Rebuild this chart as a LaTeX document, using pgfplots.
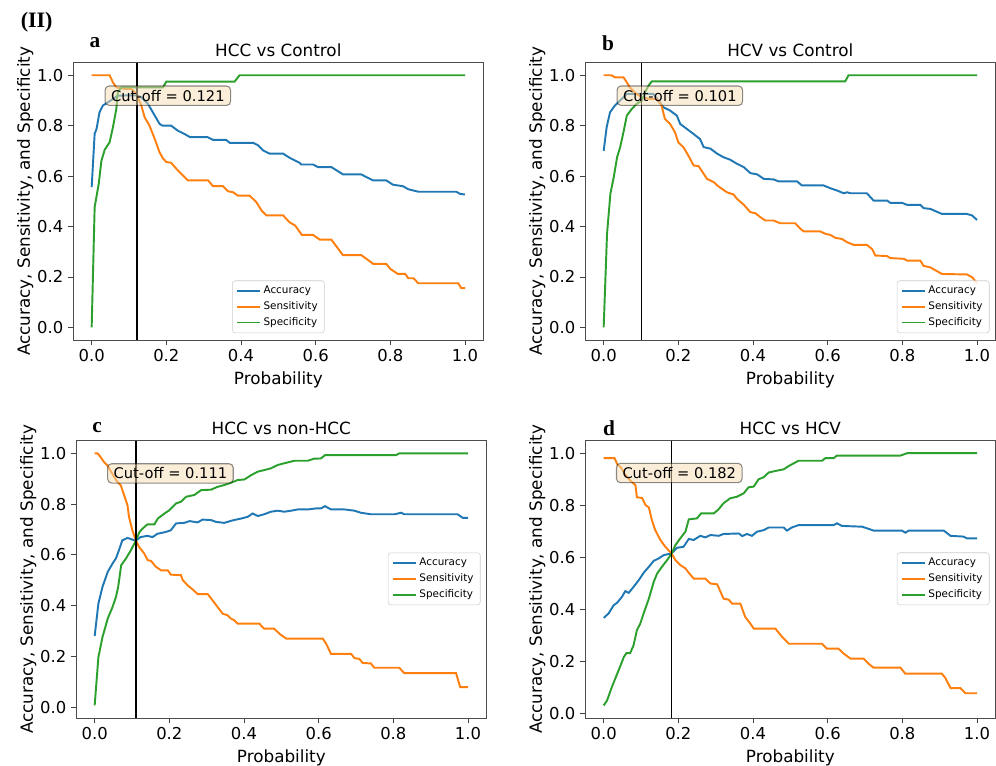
\documentclass[border=0pt]{standalone}
\usepackage{fontspec}
\setmainfont{DejaVu Sans}
\newfontfamily\timesf{Liberation Serif}
\usepackage{pgfplots}
\pgfplotsset{compat=1.18}

\definecolor{cacc}{HTML}{1F77B4}
\definecolor{csen}{HTML}{FF7F0E}
\definecolor{cspe}{HTML}{2CA02C}
\definecolor{wheat}{HTML}{F5DEB3}

\pgfplotsset{
  panel/.style={
    scale only axis, width=308pt, height=208pt, anchor=south west,
    xmin=-0.05, xmax=1.05, ymin=-0.05, ymax=1.05,
    xtick={0,0.2,0.4,0.6,0.8,1}, ytick={0,0.2,0.4,0.6,0.8,1},
    tick align=outside, xtick pos=bottom, ytick pos=left,
    major tick length=3.75pt,
    every tick/.style={black!75, line width=0.6pt},
    axis line style={black!70, line width=0.7pt},
    /pgf/number format/assume math mode=true,
    ticklabel style={font=\fontsize{12.3}{14}\selectfont},
    xticklabel style={/pgf/number format/.cd, fixed, fixed zerofill, precision=1},
    yticklabel style={/pgf/number format/.cd, fixed, fixed zerofill, precision=1},
    xlabel={Probability}, ylabel={Accuracy, Sensitivity, and Specificity},
    ylabel shift=-4pt,
    label style={font=\fontsize{12.6}{15}\selectfont},
    title style={font=\fontsize{12.6}{15}\selectfont, yshift=-5pt},
    legend style={font=\fontsize{7.8}{9}\selectfont, draw=black!20, rounded corners=2pt,
      fill=white, fill opacity=0.8, text opacity=1, draw opacity=1,
      inner xsep=3pt, inner ysep=2pt, row sep=0.5pt},
    legend cell align=left,
    legend image code/.code={\draw[#1] (0pt,0pt) -- (17pt,0pt);},
    every axis plot/.append style={line width=1.45pt, no marks},
    legend entries={Accuracy,Sensitivity,Specificity},
  },
}
\tikzset{
  cutbox/.style={draw=black, draw opacity=0.45, fill=wheat, fill opacity=0.5, text opacity=1,
    line width=0.8pt, rounded corners=3pt, font=\fontsize{11}{13}\selectfont,
    inner xsep=4.5pt, inner ysep=3pt},
}

\begin{document}
\begin{tikzpicture}
\path[use as bounding box] (0pt,0pt) rectangle (747pt,-573.75pt);

\node[font=\timesf\bfseries\fontsize{16.5}{18}\selectfont] at (27.5pt,-16.5pt) {(II)};

% a
\begin{axis}[panel, at={(54.75pt,-255pt)}, title={HCC vs Control},
  legend style={at={(0.5,0.025)}, anchor=south}]
\addplot[cacc] coordinates {
 (0,0.556)(0.008,0.768)(0.013,0.787)(0.021,0.853)(0.03,0.88)(0.044,0.893)(0.057,0.906)
 (0.07,0.919)(0.09,0.92)(0.121,0.92)(0.133,0.913)(0.151,0.886)(0.169,0.84)(0.182,0.807)
 (0.19,0.80)(0.213,0.80)(0.231,0.78)(0.249,0.767)(0.263,0.755)(0.31,0.755)(0.325,0.744)
 (0.36,0.744)(0.37,0.732)(0.433,0.732)(0.446,0.722)(0.459,0.702)(0.477,0.689)(0.513,0.689)
 (0.53,0.673)(0.557,0.653)(0.561,0.646)(0.593,0.646)(0.606,0.636)(0.642,0.636)(0.673,0.607)
 (0.722,0.607)(0.736,0.596)(0.754,0.583)(0.789,0.583)(0.807,0.566)(0.834,0.56)(0.848,0.548)
 (0.875,0.538)(0.977,0.538)(0.986,0.53)(1,0.527)};
\addplot[csen] coordinates {
 (0,1)(0.048,1)(0.057,0.972)(0.066,0.952)(0.088,0.946)(0.106,0.946)(0.12,0.926)(0.133,0.88)
 (0.142,0.833)(0.155,0.80)(0.169,0.747)(0.182,0.694)(0.191,0.67)(0.2,0.656)(0.213,0.653)
 (0.227,0.629)(0.24,0.609)(0.258,0.583)(0.312,0.583)(0.325,0.56)(0.352,0.56)(0.365,0.54)
 (0.379,0.536)(0.391,0.523)(0.423,0.523)(0.441,0.497)(0.455,0.464)(0.468,0.444)(0.513,0.444)
 (0.53,0.417)(0.545,0.404)(0.563,0.367)(0.593,0.367)(0.611,0.348)(0.642,0.348)(0.673,0.287)
 (0.722,0.287)(0.736,0.272)(0.754,0.252)(0.789,0.252)(0.8,0.232)(0.82,0.212)(0.84,0.212)
 (0.848,0.195)(0.862,0.195)(0.875,0.175)(0.982,0.175)(0.99,0.156)(1,0.156)};
\addplot[cspe] coordinates {
 (0,0)(0.008,0.477)(0.019,0.57)(0.026,0.66)(0.035,0.705)(0.048,0.734)(0.057,0.794)
 (0.066,0.866)(0.07,0.933)(0.08,0.952)(0.191,0.952)(0.2,0.975)(0.383,0.975)(0.396,1)(1,1)};
\addplot[black, line width=1.2pt, forget plot] coordinates {(0.121,-0.05)(0.121,1.05)};
\node[cutbox] at (axis cs:0.204,0.919) {Cut-off = 0.121};
\end{axis}
\node[font=\timesf\bfseries\fontsize{16}{18}\selectfont] at (71.25pt,-32.25pt) {a};

% b
\begin{axis}[panel, at={(438.75pt,-255pt)}, title={HCV vs Control},
  legend style={at={(0.985,0.025)}, anchor=south east}]
\addplot[cacc] coordinates {
 (0,0.70)(0.008,0.794)(0.017,0.853)(0.03,0.88)(0.044,0.90)(0.062,0.926)(0.133,0.926)
 (0.147,0.90)(0.16,0.873)(0.178,0.86)(0.196,0.84)(0.205,0.807)(0.223,0.787)(0.241,0.767)
 (0.258,0.747)(0.268,0.715)(0.286,0.709)(0.304,0.689)(0.321,0.675)(0.339,0.665)(0.357,0.649)
 (0.375,0.636)(0.393,0.612)(0.411,0.607)(0.429,0.589)(0.455,0.587)(0.469,0.579)(0.518,0.579)
 (0.531,0.563)(0.589,0.563)(0.607,0.552)(0.625,0.543)(0.643,0.532)(0.652,0.536)(0.661,0.532)
 (0.705,0.532)(0.723,0.503)(0.759,0.503)(0.768,0.494)(0.799,0.494)(0.813,0.486)(0.848,0.486)
 (0.857,0.473)(0.875,0.47)(0.906,0.45)(0.973,0.45)(0.987,0.444)(1,0.426)};
\addplot[csen] coordinates {
 (0,1)(0.021,1)(0.03,0.992)(0.053,0.992)(0.062,0.972)(0.07,0.952)(0.088,0.926)(0.102,0.913)
 (0.124,0.906)(0.142,0.906)(0.155,0.88)(0.164,0.827)(0.178,0.807)(0.191,0.774)(0.2,0.734)
 (0.214,0.714)(0.227,0.681)(0.241,0.642)(0.254,0.64)(0.268,0.609)(0.277,0.589)(0.295,0.576)
 (0.304,0.563)(0.33,0.536)(0.348,0.527)(0.357,0.51)(0.375,0.487)(0.393,0.457)(0.406,0.453)
 (0.42,0.437)(0.433,0.424)(0.455,0.424)(0.473,0.413)(0.513,0.413)(0.527,0.391)(0.536,0.381)
 (0.58,0.381)(0.594,0.371)(0.607,0.367)(0.621,0.355)(0.638,0.351)(0.652,0.338)(0.67,0.327)
 (0.705,0.327)(0.719,0.311)(0.728,0.285)(0.759,0.283)(0.768,0.275)(0.804,0.272)(0.813,0.265)
 (0.848,0.265)(0.857,0.244)(0.875,0.238)(0.906,0.212)(0.973,0.21)(0.987,0.199)(1,0.175)};
\addplot[cspe] coordinates {
 (0,0)(0.009,0.371)(0.018,0.53)(0.027,0.596)(0.036,0.675)(0.044,0.714)(0.053,0.774)
 (0.062,0.84)(0.075,0.866)(0.088,0.886)(0.102,0.90)(0.111,0.933)(0.12,0.959)(0.129,0.976)
 (0.647,0.976)(0.656,1)(1,1)};
\addplot[black, line width=1.2pt, forget plot] coordinates {(0.101,-0.05)(0.101,1.05)};
\node[cutbox] at (axis cs:0.204,0.919) {Cut-off = 0.101};
\end{axis}
\node[font=\timesf\bfseries\fontsize{16}{18}\selectfont] at (456pt,-32.25pt) {b};

% c
\begin{axis}[panel, at={(57pt,-538.5pt)}, title={HCC vs non-HCC}, ymin=-0.043, ymax=1.05,
  legend style={at={(0.985,0.502)}, anchor=east}]
\addplot[cacc] coordinates {
 (0,0.28)(0.01,0.408)(0.021,0.474)(0.035,0.533)(0.048,0.566)(0.057,0.586)(0.065,0.618)
 (0.074,0.657)(0.088,0.667)(0.101,0.66)(0.111,0.657)(0.123,0.67)(0.141,0.675)(0.155,0.67)
 (0.168,0.683)(0.19,0.69)(0.204,0.697)(0.218,0.724)(0.24,0.726)(0.254,0.733)(0.276,0.728)
 (0.289,0.739)(0.312,0.737)(0.325,0.73)(0.347,0.726)(0.365,0.734)(0.379,0.739)(0.392,0.743)
 (0.41,0.75)(0.423,0.763)(0.437,0.753)(0.454,0.76)(0.472,0.77)(0.49,0.774)(0.508,0.77)
 (0.526,0.774)(0.544,0.779)(0.571,0.779)(0.593,0.783)(0.606,0.783)(0.617,0.792)(0.633,0.779)
 (0.669,0.779)(0.696,0.774)(0.713,0.766)(0.74,0.76)(0.803,0.76)(0.821,0.766)(0.829,0.76)
 (0.972,0.76)(0.986,0.746)(1,0.746)};
\addplot[csen] coordinates {
 (0,1)(0.008,1)(0.016,0.985)(0.025,0.966)(0.034,0.953)(0.047,0.92)(0.061,0.887)(0.07,0.874)
 (0.079,0.835)(0.088,0.795)(0.092,0.749)(0.101,0.697)(0.11,0.657)(0.119,0.631)(0.133,0.605)
 (0.142,0.579)(0.151,0.576)(0.164,0.553)(0.178,0.539)(0.196,0.539)(0.204,0.522)(0.231,0.52)
 (0.236,0.5)(0.249,0.48)(0.263,0.463)(0.276,0.445)(0.303,0.445)(0.312,0.428)(0.329,0.395)
 (0.343,0.368)(0.356,0.362)(0.365,0.349)(0.374,0.342)(0.383,0.329)(0.441,0.329)(0.454,0.309)
 (0.481,0.309)(0.495,0.289)(0.513,0.27)(0.611,0.27)(0.62,0.25)(0.633,0.21)(0.687,0.21)
 (0.696,0.193)(0.709,0.19)(0.718,0.174)(0.74,0.172)(0.749,0.155)(0.816,0.155)(0.829,0.134)
 (0.968,0.134)(0.979,0.079)(1,0.079)};
\addplot[cspe] coordinates {
 (0,0.007)(0.01,0.197)(0.021,0.276)(0.035,0.349)(0.048,0.395)(0.057,0.434)(0.063,0.474)
 (0.071,0.559)(0.084,0.586)(0.097,0.618)(0.111,0.658)(0.12,0.69)(0.128,0.703)(0.141,0.72)
 (0.16,0.72)(0.169,0.743)(0.187,0.763)(0.2,0.776)(0.218,0.803)(0.231,0.809)(0.245,0.829)
 (0.267,0.836)(0.285,0.855)(0.312,0.857)(0.329,0.868)(0.347,0.875)(0.365,0.884)(0.383,0.895)
 (0.401,0.897)(0.419,0.914)(0.437,0.928)(0.454,0.934)(0.472,0.941)(0.49,0.954)(0.508,0.961)
 (0.535,0.971)(0.571,0.971)(0.588,0.979)(0.606,0.98)(0.617,0.993)(0.807,0.993)(0.816,1)(1,1)};
\addplot[black, line width=1.2pt, forget plot] coordinates {(0.111,-0.043)(0.111,1.05)};
\node[cutbox] at (axis cs:0.203,0.921) {Cut-off = 0.111};
\end{axis}
\node[font=\timesf\bfseries\fontsize{16}{18}\selectfont] at (72.75pt,-321pt) {c};

% d
\begin{axis}[panel, at={(438.75pt,-538.5pt)}, title={HCC vs HCV}, ymin=-0.016, ymax=1.048,
  legend style={at={(0.985,0.502)}, anchor=east}]
\addplot[cacc] coordinates {
 (0,0.368)(0.013,0.385)(0.027,0.417)(0.036,0.426)(0.049,0.449)(0.058,0.471)(0.067,0.464)
 (0.08,0.487)(0.094,0.513)(0.107,0.541)(0.121,0.564)(0.134,0.587)(0.147,0.596)(0.161,0.609)
 (0.174,0.613)(0.182,0.615)(0.196,0.637)(0.214,0.641)(0.228,0.671)(0.241,0.667)(0.259,0.683)
 (0.272,0.677)(0.286,0.686)(0.308,0.683)(0.321,0.69)(0.362,0.692)(0.371,0.682)(0.384,0.69)
 (0.397,0.683)(0.411,0.699)(0.429,0.705)(0.442,0.715)(0.482,0.715)(0.491,0.703)(0.504,0.715)
 (0.522,0.724)(0.616,0.724)(0.625,0.731)(0.638,0.721)(0.692,0.718)(0.705,0.712)(0.723,0.703)
 (0.799,0.703)(0.808,0.695)(0.817,0.703)(0.911,0.703)(0.929,0.683)(0.964,0.68)(0.973,0.673)
 (1,0.673)};
\addplot[csen] coordinates {
 (0,0.981)(0.029,0.981)(0.0375,0.955)(0.046,0.946)(0.058,0.917)(0.071,0.895)(0.085,0.878)
 (0.089,0.831)(0.103,0.828)(0.112,0.801)(0.121,0.792)(0.129,0.744)(0.138,0.705)(0.152,0.667)
 (0.165,0.641)(0.182,0.615)(0.192,0.59)(0.205,0.571)(0.219,0.558)(0.228,0.541)(0.241,0.519)
 (0.272,0.519)(0.286,0.5)(0.304,0.497)(0.313,0.468)(0.321,0.442)(0.335,0.438)(0.344,0.423)
 (0.366,0.423)(0.379,0.372)(0.393,0.346)(0.402,0.327)(0.46,0.327)(0.478,0.295)(0.496,0.269)
 (0.585,0.269)(0.598,0.25)(0.629,0.25)(0.643,0.231)(0.661,0.212)(0.696,0.212)(0.71,0.192)
 (0.723,0.177)(0.795,0.177)(0.808,0.154)(0.906,0.154)(0.915,0.138)(0.929,0.099)(0.955,0.099)
 (0.969,0.079)(1,0.079)};
\addplot[cspe] coordinates {
 (0,0.032)(0.009,0.051)(0.022,0.103)(0.04,0.167)(0.054,0.218)(0.061,0.233)(0.071,0.233)
 (0.08,0.263)(0.089,0.321)(0.098,0.346)(0.107,0.385)(0.121,0.442)(0.134,0.506)(0.143,0.538)
 (0.156,0.564)(0.17,0.59)(0.182,0.615)(0.192,0.647)(0.205,0.673)(0.219,0.699)(0.228,0.746)
 (0.25,0.75)(0.261,0.769)(0.295,0.769)(0.308,0.785)(0.321,0.808)(0.339,0.827)(0.357,0.833)
 (0.375,0.846)(0.388,0.869)(0.402,0.872)(0.415,0.9)(0.429,0.908)(0.442,0.926)(0.464,0.933)
 (0.482,0.938)(0.496,0.951)(0.522,0.971)(0.585,0.971)(0.594,0.981)(0.616,0.981)(0.625,0.991)
 (0.795,0.991)(0.813,1)(1,1)};
\addplot[black, line width=1.2pt, forget plot] coordinates {(0.182,-0.016)(0.182,1.048)};
\node[cutbox] at (axis cs:0.2025,0.924) {Cut-off = 0.182};
\end{axis}
\node[font=\timesf\bfseries\fontsize{16}{18}\selectfont] at (456.75pt,-321pt) {d};
\end{tikzpicture}
\end{document}
